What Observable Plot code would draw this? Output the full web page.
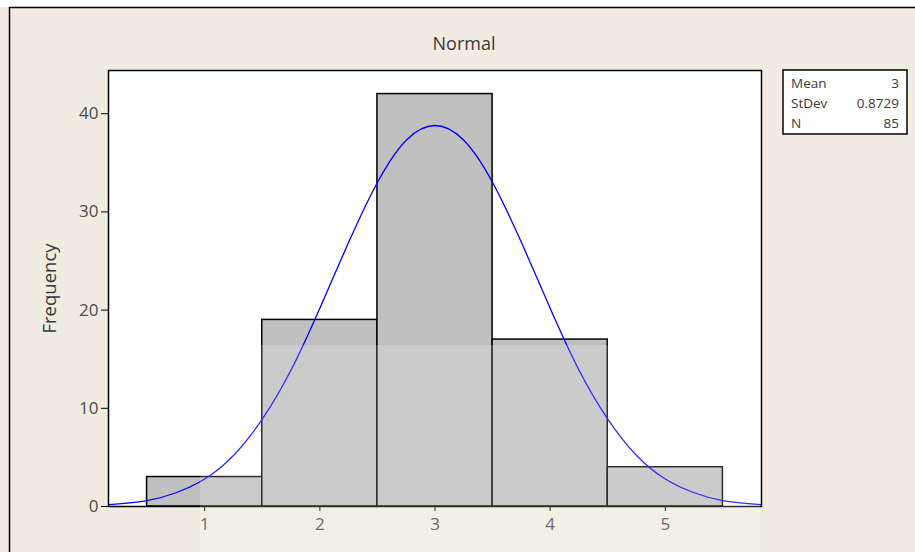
<!DOCTYPE html>
<html>
<head>
<meta charset="utf-8">
<script src="https://cdn.jsdelivr.net/npm/d3@7"></script>
<script src="https://cdn.jsdelivr.net/npm/@observablehq/plot@0.6"></script>
<style>
  html, body { margin: 0; padding: 0; background: #f0ece1; }
</style>
</head>
<body>
<div id="chart"></div>
<script>
// Histogram data
const binCenters = [1, 2, 3, 4, 5];
const frequencies = [3, 19, 42, 17, 4];
const binWidth = 1;

// Fitted normal curve
const curveX = [0.17, 0.5, 0.75, 1.0, 1.25, 1.5, 1.75, 2.0, 2.25, 2.5, 2.75, 3.0,
                3.25, 3.5, 3.75, 4.0, 4.25, 4.5, 4.75, 5.0, 5.25, 5.5, 5.83];
const curveY = [0.2, 0.6, 1.4, 2.8, 5.2, 8.9, 13.9, 20.2, 26.9, 33.0, 37.3, 38.8,
                37.3, 33.0, 26.9, 20.2, 13.9, 8.9, 5.2, 2.8, 1.4, 0.6, 0.2];

const xTicks = [1, 2, 3, 4, 5];
const yTicks = [0, 10, 20, 30, 40];

const statLabels = ["Mean", "StDev", "N"];
const statValues = ["3", "0.8729", "85"];

const titleText = "Normal";
const yLabel = "Frequency";

const bars = binCenters.map((c, i) => ({x1: c - binWidth / 2, x2: c + binWidth / 2, y: frequencies[i]}));
const curve = curveX.map((x, i) => ({x, y: curveY[i]}));

const FONT = "'Open Sans', 'DejaVu Sans', sans-serif";

function decorations(index, scales, values, dimensions) {
  const g = d3.create("svg:g");
  // top white band with frame line
  g.append("rect").attr("x", 0).attr("y", 0).attr("width", dimensions.width).attr("height", 7).attr("fill", "white");
  g.append("line").attr("x1", 9).attr("x2", dimensions.width).attr("y1", 7.5).attr("y2", 7.5)
    .attr("stroke", "black").attr("stroke-width", 1.5);
  g.append("line").attr("x1", 9.5).attr("x2", 9.5).attr("y1", 7).attr("y2", dimensions.height)
    .attr("stroke", "black").attr("stroke-width", 1.5);
  // title
  g.append("text").attr("x", 464).attr("y", 50).text(titleText)
    .attr("text-anchor", "middle").attr("font-size", 18).attr("font-family", FONT).attr("fill", "#3a3a3a");
  // stats box
  const bx = 783, by = 70, bw = 124, bh = 64;
  g.append("rect").attr("x", bx).attr("y", by).attr("width", bw).attr("height", bh)
    .attr("fill", "white").attr("stroke", "black").attr("stroke-width", 1.5);
  statLabels.forEach((lab, i) => {
    g.append("text").attr("x", bx + 8).attr("y", by + 18 + i * 20).text(lab)
      .attr("text-anchor", "start").attr("font-size", 13.5).attr("font-family", FONT).attr("fill", "#3a3a3a");
    g.append("text").attr("x", bx + bw - 8).attr("y", by + 18 + i * 20).text(statValues[i])
      .attr("text-anchor", "end").attr("font-size", 13.5).attr("font-family", FONT).attr("fill", "#3a3a3a");
  });
  return g.node();
}

function watermark(index, scales, values, dimensions) {
  const g = d3.create("svg:g");
  g.append("rect").attr("x", 200).attr("y", 345).attr("width", 560).attr("height", dimensions.height - 345)
    .attr("fill", "white").attr("fill-opacity", 0.18);
  return g.node();
}

const plot = Plot.plot({
  width: 915,
  height: 552,
  marginLeft: 108,
  marginRight: 154,
  marginTop: 70,
  marginBottom: 46,
  style: {backgroundColor: "#f0ece1", fontFamily: FONT, fontSize: "17px", color: "#4a4a4a"},
  x: {domain: [0.165, 5.835]},
  y: {domain: [0, 44.4]},
  marks: [
    Plot.frame({fill: "white", stroke: null}),
    Plot.rectY(bars, {x1: "x1", x2: "x2", y: "y", fill: "#c0c0c0", stroke: "black", strokeWidth: 1.5}),
    Plot.line(curve, {x: "x", y: "y", stroke: "#0000ff", strokeWidth: 1.3, curve: "natural"}),
    Plot.frame({stroke: "black", strokeWidth: 1.5}),
    Plot.axisY({ticks: yTicks, tickFormat: d => String(d), tickSize: 7, tickPadding: 3, label: null, stroke: "black", fill: "#4a4a4a", fontSize: 17}),
    Plot.axisX({ticks: xTicks, tickFormat: d => String(d), tickSize: 5, tickPadding: 6, label: null, stroke: "black", fill: "#4a4a4a", fontSize: 17}),
    Plot.text([yLabel], {frameAnchor: "left", textAnchor: "middle", dx: -58, rotate: -90, text: d => d, fontSize: 18.5, fill: "#3a3a3a"}),
    decorations,
    watermark
  ]
});
document.getElementById("chart").appendChild(plot);
</script>
</body>
</html>
